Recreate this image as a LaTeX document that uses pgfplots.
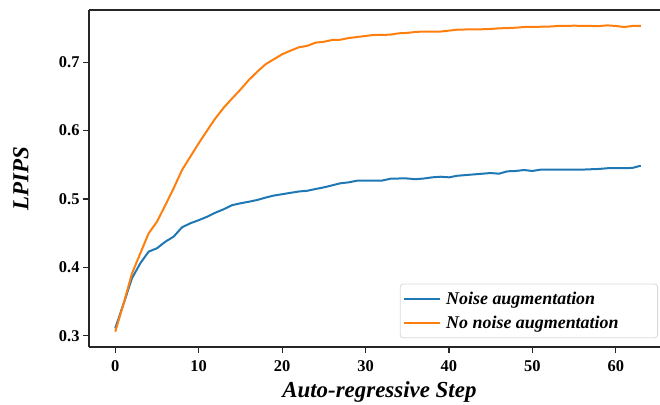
\documentclass[border=0pt]{standalone}
\usepackage{fontspec}
\setmainfont{Liberation Serif}
\usepackage{pgfplots}
\pgfplotsset{compat=1.18}

\definecolor{tabblue}{HTML}{1F77B4}
\definecolor{taborange}{HTML}{FF7F0E}

\begin{document}
\begin{tikzpicture}
\begin{axis}[
    name=ax,
    scale only axis,
    width=571bp, height=337bp,
    xmin=-3.15, xmax=65.3,
    ymin=0.2835, ymax=0.7765,
    axis x line*=box,
    axis y line*=left,
    xtick pos=bottom,
    xtick={0,10,...,60},
    ytick={0.3,0.4,0.5,0.6,0.7},
    yticklabels={0.3,0.4,0.5,0.6,0.7},
    tick align=outside,
    major tick length=6bp,
    tick style={line width=1.2bp, black!85},
    axis line style={line width=1.5bp, black!85},
    /pgf/number format/assume math mode=true,
    ticklabel style={font=\fontsize{16.5}{19}\selectfont\bfseries},
    xticklabel style={yshift=-5bp, inner sep=2bp},
    xlabel={Auto-regressive Step},
    ylabel={LPIPS},
    label style={font=\fontsize{23}{27}\selectfont\bfseries\itshape, inner sep=0pt},
    xlabel style={at={(axis description cs:0.5086,-0.151)}, anchor=base},
    ylabel style={at={(axis description cs:-0.106,0.5)}, anchor=base},
    legend cell align=left,
    legend image code/.code={\draw[#1, line width=2bp] (0bp,0bp) -- (36bp,0bp);},
    legend style={at={(rel axis cs:0.9965,0.026)}, anchor=south east,
        draw=black!15, line width=0.8bp, rounded corners=3bp, fill=white,
        font=\fontsize{18}{21}\selectfont\bfseries\itshape,
        inner xsep=3bp, inner ysep=5.7bp, row sep=6.6bp, column sep=3bp},
]
\addplot[tabblue, line width=2bp] coordinates {
(0,0.311) (1,0.347) (2,0.384) (3,0.406) (4,0.423) (5,0.428) (6,0.4375) (7,0.445)
(8,0.4586) (9,0.4645) (10,0.469) (11,0.474) (12,0.480) (13,0.485) (14,0.491) (15,0.4937)
(16,0.496) (17,0.4985) (18,0.502) (19,0.505) (20,0.507) (21,0.509) (22,0.511) (23,0.512)
(24,0.5146) (25,0.517) (26,0.520) (27,0.523) (28,0.5244) (29,0.5268) (30,0.5268) (31,0.527)
(32,0.527) (33,0.5297) (34,0.530) (35,0.530) (36,0.529) (37,0.530) (38,0.5317) (39,0.5326)
(40,0.5317) (41,0.534) (42,0.535) (43,0.536) (44,0.537) (45,0.538) (46,0.537) (47,0.5405)
(48,0.541) (49,0.5424) (50,0.541) (51,0.543) (52,0.543) (53,0.543) (54,0.543) (55,0.543)
(56,0.543) (57,0.5435) (58,0.544) (59,0.545) (60,0.545) (61,0.545) (62,0.5455) (63,0.5487)
};
\addlegendentry{Noise augmentation}
\addplot[taborange, line width=2bp] coordinates {
(0,0.306) (1,0.347) (2,0.391) (3,0.4205) (4,0.4498) (5,0.4668) (6,0.491) (7,0.5157)
(8,0.5424) (9,0.562) (10,0.5815) (11,0.600) (12,0.618) (13,0.6336) (14,0.647) (15,0.660)
(16,0.674) (17,0.686) (18,0.697) (19,0.7044) (20,0.7117) (21,0.717) (22,0.7219) (23,0.724)
(24,0.7287) (25,0.730) (26,0.7326) (27,0.733) (28,0.7355) (29,0.737) (30,0.7385) (31,0.740)
(32,0.740) (33,0.7405) (34,0.7424) (35,0.743) (36,0.7444) (37,0.745) (38,0.745) (39,0.745)
(40,0.7463) (41,0.7477) (42,0.748) (43,0.748) (44,0.7483) (45,0.7487) (46,0.7497) (47,0.750)
(48,0.7506) (49,0.7516) (50,0.7518) (51,0.752) (52,0.7522) (53,0.7531) (54,0.7531) (55,0.7536)
(56,0.7531) (57,0.7531) (58,0.753) (59,0.754) (60,0.7531) (61,0.7516) (62,0.7531) (63,0.7533)
};
\addlegendentry{No noise augmentation\hspace*{34bp}}
\end{axis}
\pgfresetboundingbox
\useasboundingbox ([xshift=-89bp,yshift=-58bp]ax.south west) rectangle ([yshift=10bp]ax.north east);
\end{tikzpicture}
\end{document}
